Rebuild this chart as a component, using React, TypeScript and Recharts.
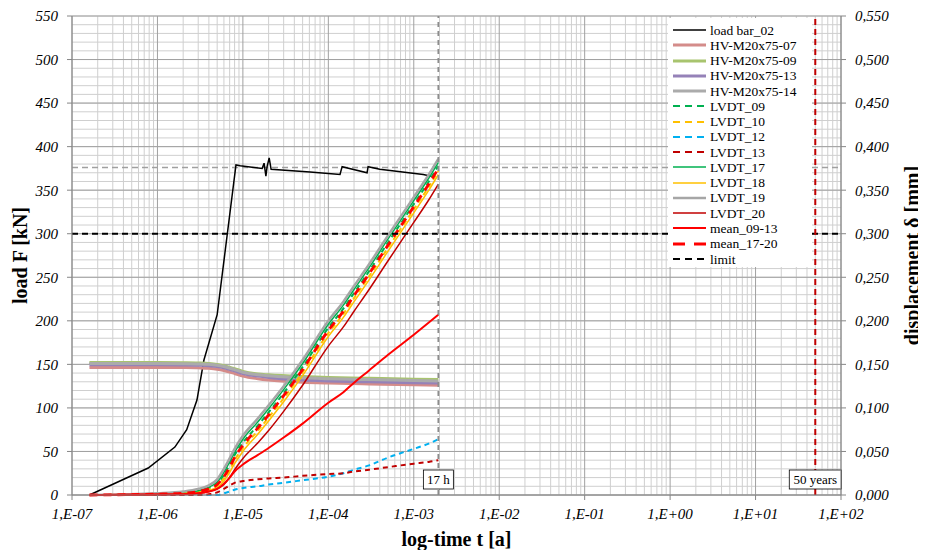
import React from "react";
import {
  ComposedChart,
  Line,
  XAxis,
  YAxis,
  CartesianGrid,
  ReferenceLine,
  Label,
} from "recharts";

const FONT = "'Liberation Serif', 'Times New Roman', serif";

// x axis: log-time in years
const decadeTicks = [1e-7, 1e-6, 1e-5, 1e-4, 1e-3, 1e-2, 1e-1, 1, 10, 100];
const minorXTicks = decadeTicks
  .slice(0, -1)
  .flatMap((d) => [2, 3, 4, 5, 6, 7, 8, 9].map((k) => k * d));
const loadTicks = [0, 50, 100, 150, 200, 250, 300, 350, 400, 450, 500, 550];
const minorLoadTicks = Array.from({ length: 56 }, (_, i) => i * 10);
const dispTicks = [0, 0.05, 0.1, 0.15, 0.2, 0.25, 0.3, 0.35, 0.4, 0.45, 0.5, 0.55];

// load bar_02 [kN]
const timeLoad = [
  1.6e-7, 7.8e-7, 1.6e-6, 2.2e-6, 2.9e-6, 3.5e-6, 5.0e-6, 8.3e-6, 9.3e-6, 1.68e-5,
  1.77e-5, 1.86e-5, 1.92e-5, 2.03e-5, 2.14e-5, 6.1e-5, 1.37e-4, 1.45e-4, 2.84e-4,
  2.92e-4, 4.0e-4, 1.29e-3, 1.6e-3,
];
const loadBar02 = [
  0, 31, 55, 75, 109, 155, 207, 379, 378, 375, 381, 366, 377, 387, 374, 371, 368,
  377, 370, 377, 374, 368, 366,
];

// bolt preload HV-M20x75 [kN]
const timeHV = [
  1.6e-7, 1e-6, 2e-6, 3e-6, 4e-6, 5e-6, 6e-6, 8e-6, 1e-5, 1.5e-5, 2e-5, 5e-5, 1e-4,
  3e-4, 1e-3, 1.94e-3,
];
const hv07 = [146.5, 146.5, 146.3, 146, 145.5, 144.5, 143, 139.5, 136.5, 133.5, 132, 129.5, 128.5, 127.5, 126.5, 126];
const hv09 = [152, 152, 151.8, 151.5, 151, 150, 148.5, 145, 142, 139, 138, 136, 135, 134, 133, 132.5];
const hv13 = [149.5, 149.5, 149.3, 149, 148.5, 147.5, 146, 142.5, 139.5, 136.5, 135, 132, 131, 130, 129, 128.5];
const hv14 = [151, 151, 150.8, 150.5, 150, 149, 147.5, 144, 141, 138, 137, 134.5, 133.5, 132.5, 131.5, 131];

// displacement LVDT [mm]
const timeLVDT = [
  1.6e-7, 1e-6, 2e-6, 3e-6, 4e-6, 5e-6, 6e-6, 7e-6, 8e-6, 1e-5, 1.5e-5, 2e-5, 3e-5,
  5e-5, 1e-4, 1.5e-4, 2e-4, 3e-4, 5e-4, 1e-3, 1.5e-3, 1.94e-3,
];
const lvdt09 = [0, 0.001, 0.002, 0.004, 0.008, 0.013, 0.023, 0.035, 0.046, 0.06, 0.08, 0.095, 0.117, 0.147, 0.192, 0.214, 0.232, 0.257, 0.29, 0.334, 0.36, 0.378];
const lvdt10 = [0, 0.001, 0.002, 0.003, 0.006, 0.011, 0.019, 0.029, 0.04, 0.054, 0.074, 0.089, 0.111, 0.141, 0.186, 0.208, 0.226, 0.251, 0.284, 0.328, 0.354, 0.372];
const lvdt12 = [0, 0, 0, 0, 0, 0, 0.002, 0.004, 0.006, 0.008, 0.01, 0.012, 0.014, 0.017, 0.021, 0.025, 0.029, 0.034, 0.043, 0.053, 0.059, 0.064];
const lvdt13 = [0, 0, 0, 0, 0.001, 0.003, 0.007, 0.011, 0.014, 0.016, 0.018, 0.019, 0.02, 0.022, 0.024, 0.025, 0.027, 0.029, 0.032, 0.036, 0.038, 0.04];
const lvdt17 = [0, 0.001, 0.003, 0.005, 0.009, 0.015, 0.026, 0.038, 0.049, 0.064, 0.084, 0.099, 0.121, 0.151, 0.196, 0.218, 0.236, 0.261, 0.294, 0.338, 0.364, 0.382];
const lvdt18 = [0, 0.001, 0.002, 0.003, 0.005, 0.009, 0.016, 0.026, 0.036, 0.05, 0.07, 0.085, 0.107, 0.137, 0.182, 0.204, 0.222, 0.247, 0.28, 0.324, 0.35, 0.368];
const lvdt19 = [0, 0.002, 0.004, 0.007, 0.011, 0.018, 0.03, 0.042, 0.053, 0.068, 0.088, 0.103, 0.125, 0.155, 0.2, 0.222, 0.24, 0.265, 0.298, 0.342, 0.368, 0.386];
const lvdt20 = [0, 0, 0.001, 0.002, 0.004, 0.007, 0.012, 0.02, 0.029, 0.042, 0.06, 0.074, 0.096, 0.126, 0.171, 0.193, 0.211, 0.236, 0.269, 0.313, 0.339, 0.357];
const mean0913 = [0, 0.001, 0.001, 0.002, 0.004, 0.007, 0.013, 0.02, 0.027, 0.035, 0.046, 0.054, 0.066, 0.082, 0.106, 0.118, 0.129, 0.143, 0.161, 0.184, 0.198, 0.207];
const mean1720 = [0, 0.001, 0.002, 0.004, 0.007, 0.012, 0.021, 0.032, 0.043, 0.057, 0.077, 0.092, 0.114, 0.144, 0.189, 0.211, 0.229, 0.254, 0.287, 0.331, 0.357, 0.375];

// limit load
const timeLimit = [1e-7, 1e2];
const limitLoad = [300, 300];

const meanLoadLevel = 376;
const t17h = 1.94e-3;
const t50years = 50;

const rows = (t: number[], v: number[]) => t.map((x, i) => ({ t: x, v: v[i] }));

type Series = {
  name: string;
  t: number[];
  v: number[];
  axis: 0 | "d";
  color: string;
  width: number;
  dash?: string;
  legendDash?: string;
  curve?: "linear" | "monotone";
};

const series: Series[] = [
  { name: "load bar_02", t: timeLoad, v: loadBar02, axis: 0, color: "#000000", width: 1.5, curve: "linear" },
  { name: "HV-M20x75-07", t: timeHV, v: hv07, axis: 0, color: "#D48C8A", width: 3 },
  { name: "HV-M20x75-09", t: timeHV, v: hv09, axis: 0, color: "#A8C46E", width: 3 },
  { name: "HV-M20x75-13", t: timeHV, v: hv13, axis: 0, color: "#9582B8", width: 3 },
  { name: "HV-M20x75-14", t: timeHV, v: hv14, axis: 0, color: "#ABABAB", width: 3 },
  { name: "LVDT_09", t: timeLVDT, v: lvdt09, axis: "d", color: "#00B050", width: 2, dash: "5 4", legendDash: "7 5" },
  { name: "LVDT_10", t: timeLVDT, v: lvdt10, axis: "d", color: "#FFC000", width: 2, dash: "5 4", legendDash: "7 5" },
  { name: "LVDT_12", t: timeLVDT, v: lvdt12, axis: "d", color: "#00B0F0", width: 2, dash: "5 4", legendDash: "7 5" },
  { name: "LVDT_13", t: timeLVDT, v: lvdt13, axis: "d", color: "#C00000", width: 2, dash: "5 4", legendDash: "7 5" },
  { name: "LVDT_17", t: timeLVDT, v: lvdt17, axis: "d", color: "#00B050", width: 1.5 },
  { name: "LVDT_18", t: timeLVDT, v: lvdt18, axis: "d", color: "#FFC000", width: 1.5 },
  { name: "LVDT_19", t: timeLVDT, v: lvdt19, axis: "d", color: "#A6A6A6", width: 2.5 },
  { name: "LVDT_20", t: timeLVDT, v: lvdt20, axis: "d", color: "#C00000", width: 1.5 },
  { name: "mean_09-13", t: timeLVDT, v: mean0913, axis: "d", color: "#FF0000", width: 2 },
  { name: "mean_17-20", t: timeLVDT, v: mean1720, axis: "d", color: "#FF0000", width: 2.8, dash: "8 6", legendDash: "12 9" },
  { name: "limit", t: timeLimit, v: limitLoad, axis: 0, color: "#000000", width: 1.8, dash: "6 4", legendDash: "7 5", curve: "linear" },
];

const fmtTime = (v: number) => {
  const e = Math.round(Math.log10(v));
  return `1,E${e < 0 ? "-" : "+"}${String(Math.abs(e)).padStart(2, "0")}`;
};
const fmtDisp = (v: number) => v.toFixed(3).replace(".", ",");

const tickStyle = { fontSize: 15, fontStyle: "italic", fill: "#000", fontFamily: FONT };
const axisGray = "#868686";

// minor log grid, placed with the axis scales
const applyScale = (scale: any, v: number): number | undefined => {
  if (!scale) return undefined;
  if (typeof scale === "function") return scale(v);
  if (typeof scale.map === "function") return scale.map(v);
  if (typeof scale.scale === "function") return scale.scale(v);
  return undefined;
};
const minorVertical = (p: any) =>
  minorXTicks.map((v) => applyScale(p?.xAxis?.scale, v)).filter((x) => typeof x === "number") as number[];
const minorHorizontal = (p: any) =>
  minorLoadTicks.map((v) => applyScale(p?.yAxis?.scale, v)).filter((y) => typeof y === "number") as number[];

const boxLabel = (text: string, w: number) => (props: any) => {
  const vb = props.viewBox;
  const cx = vb.x;
  const bottom = vb.y + vb.height;
  return (
    <g>
      <rect x={cx - w / 2} y={bottom - 25} width={w} height={19} fill="#fff" stroke="#000" strokeWidth={0.8} />
      <text x={cx} y={bottom - 11} textAnchor="middle" fontSize={13} fontFamily={FONT} fill="#000">
        {text}
      </text>
    </g>
  );
};

const vTitle = (text: string, side: "left" | "right") => (props: any) => {
  const vb = props.viewBox;
  const cx = side === "left" ? vb.x + 12 : vb.x + 71;
  const cy = vb.y + vb.height / 2;
  return (
    <text
      x={cx}
      y={cy}
      transform={`rotate(-90 ${cx} ${cy})`}
      textAnchor="middle"
      dominantBaseline="central"
      fontSize={20}
      fontWeight="bold"
      fontFamily={FONT}
      fill="#000"
    >
      {text}
    </text>
  );
};

const xTitle = (props: any) => {
  const vb = props.viewBox;
  return (
    <text
      x={vb.x + vb.width / 2}
      y={vb.y + 51}
      textAnchor="middle"
      fontSize={20}
      fontWeight="bold"
      fontFamily={FONT}
      fill="#000"
    >
      log-time t [a]
    </text>
  );
};

function LegendBox() {
  return (
    <div
      style={{
        position: "absolute",
        left: 660,
        top: 10,
        width: 144,
        height: 249,
        background: "#fff",
        boxSizing: "border-box",
        paddingTop: 4.4,
        fontFamily: FONT,
        fontSize: 13.5,
        color: "#000",
      }}
    >
      {series.map((s) => (
        <div key={s.name} style={{ height: 15.27, display: "flex", alignItems: "center" }}>
          <svg width={42} height={10} style={{ flex: "none" }}>
            <line
              x1={5}
              y1={5}
              x2={38}
              y2={5}
              stroke={s.color}
              strokeWidth={s.width}
              strokeDasharray={s.legendDash}
            />
          </svg>
          <span style={{ whiteSpace: "nowrap", lineHeight: "15px" }}>{s.name}</span>
        </div>
      ))}
    </div>
  );
}

export default function App() {
  return (
    <div style={{ position: "relative", width: 918, height: 542 }}>
      <ComposedChart width={918} height={542} margin={{ top: 8, right: 0, left: 0, bottom: 0 }}>
        <CartesianGrid
          stroke="#CFCFCF"
          verticalCoordinatesGenerator={minorVertical}
          horizontalCoordinatesGenerator={minorHorizontal}
        />
        <CartesianGrid stroke="#A0A0A0" />

        <XAxis
          type="number"
          dataKey="t"
          scale="log"
          domain={[1e-7, 100]}
          ticks={decadeTicks}
          allowDataOverflow
          tickFormatter={fmtTime}
          height={55}
          tick={tickStyle}
          tickSize={5}
          tickMargin={8}
          stroke={axisGray}
          interval={0}
        >
          <Label content={xTitle} />
        </XAxis>
        <XAxis
          xAxisId="top"
          orientation="top"
          type="number"
          dataKey="t"
          scale="log"
          domain={[1e-7, 100]}
          height={0}
          tick={false}
          tickLine={false}
          stroke="#5A5A5A"
          strokeWidth={1.5}
        />
        <YAxis
          type="number"
          domain={[0, 550]}
          ticks={loadTicks}
          width={64}
          tick={tickStyle}
          tickSize={5}
          tickMargin={9}
          stroke={axisGray}
          interval={0}
        >
          <Label content={vTitle("load F [kN]", "left")} />
        </YAxis>
        <YAxis
          yAxisId="d"
          orientation="right"
          type="number"
          domain={[0, 0.55]}
          ticks={dispTicks}
          tickFormatter={fmtDisp}
          width={85}
          tick={tickStyle}
          tickSize={5}
          tickMargin={9}
          stroke={axisGray}
          interval={0}
        >
          <Label content={vTitle("displacement δ [mm]", "right")} />
        </YAxis>

        <ReferenceLine y={meanLoadLevel} stroke="#A0A0A0" strokeWidth={1.5} strokeDasharray="6 4" />

        {series.map((s) => (
          <Line
            key={s.name}
            name={s.name}
            data={rows(s.t, s.v)}
            dataKey="v"
            yAxisId={s.axis}
            type={s.curve ?? "monotone"}
            stroke={s.color}
            strokeWidth={s.width}
            strokeDasharray={s.dash}
            dot={false}
            activeDot={false}
            isAnimationActive={false}
          />
        ))}

        <ReferenceLine
          x={t17h}
          stroke="#8C8C8C"
          strokeWidth={1.8}
          strokeDasharray="5 4"
          label={boxLabel("17 h", 30)}
        />
        <ReferenceLine
          x={t50years}
          stroke="#C00000"
          strokeWidth={2}
          strokeDasharray="6 4"
          label={boxLabel("50 years", 52)}
        />
      </ComposedChart>
      <LegendBox />
    </div>
  );
}
